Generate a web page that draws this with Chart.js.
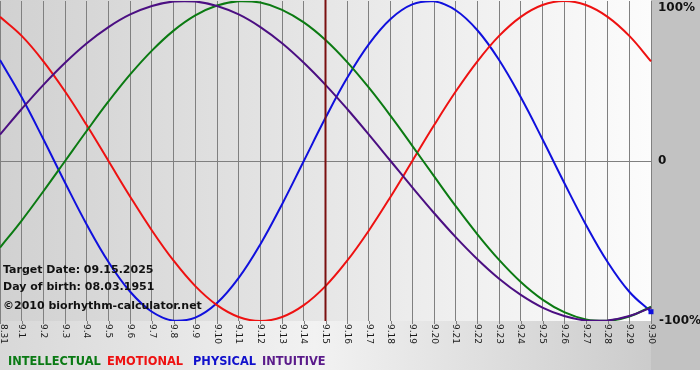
<!DOCTYPE html>
<html>
<head>
<meta charset="utf-8">
<script src="https://cdn.jsdelivr.net/npm/chart.js@4.4.1/dist/chart.umd.min.js"></script>
<style>
html,body{margin:0;padding:0;background:#fff;}
#wrap{width:700px;height:380px;position:relative;}
</style>
</head>
<body>
<div id="wrap"><canvas id="c" width="700" height="380"></canvas></div>
<script>
const dayLabels = ["8.31","9.1","9.2","9.3","9.4","9.5","9.6","9.7","9.8","9.9","9.10","9.11","9.12","9.13","9.14","9.15","9.16","9.17","9.18","9.19","9.20","9.21","9.22","9.23","9.24","9.25","9.26","9.27","9.28","9.29","9.30"];
const intellectual = [-54.1,-37.2,-18.9,0,18.9,37.2,54.1,69.0,81.5,91.0,97.2,99.9,99.0,94.5,86.6,75.6,61.8,45.8,28.2,9.5,-9.5,-28.2,-45.8,-61.8,-75.6,-86.6,-94.5,-99.0,-99.9,-97.2,-91.0];
const emotional = [90.1,78.2,62.3,43.4,22.3,0,-22.3,-43.4,-62.3,-78.2,-90.1,-97.5,-100,-97.5,-90.1,-78.2,-62.3,-43.4,-22.3,0,22.3,43.4,62.3,78.2,90.1,97.5,100,97.5,90.1,78.2,62.3];
const physical = [63.1,39.8,13.6,-13.6,-39.8,-63.1,-81.7,-94.2,-99.8,-97.9,-88.8,-73.1,-52.0,-27.0,0,27.0,52.0,73.1,88.8,97.9,99.8,94.2,81.7,63.1,39.8,13.6,-13.6,-39.8,-63.1,-81.7,-94.2];
const intuitive = [16.5,32.5,47.6,61.4,73.6,83.7,91.6,96.9,99.7,99.7,96.9,91.6,83.7,73.6,61.4,47.6,32.5,16.5,0,-16.5,-32.5,-47.6,-61.4,-73.6,-83.7,-91.6,-96.9,-99.7,-99.7,-96.9,-91.6];
const yTickLabels = [[100,"100%"],[0,"0"],[-100,"-100%"]];
const targetLabel = "9.15";
const infoLines = ["Target Date: 09.15.2025","Day of birth: 08.03.1951","©2010 biorhythm-calculator.net"];
const legendItems = [["INTELLECTUAL","#0a7a14"],["EMOTIONAL","#ee1111"],["PHYSICAL","#1010cc"],["INTUITIVE","#5a1a8a"]];

const bgPlugin = {
  id: 'bg',
  beforeDraw(chart) {
    const ctx = chart.ctx, a = chart.chartArea;
    ctx.save();
    ctx.fillStyle = '#ffffff';
    ctx.fillRect(0,0,700,380);
    let g = ctx.createLinearGradient(0,0,700,0);
    g.addColorStop(0,'#d8d8d8');
    g.addColorStop(0.45,'#f2f2f2');
    g.addColorStop(1,'#c6c6c6');
    ctx.fillStyle = g;
    ctx.fillRect(0,a.bottom,700,370-a.bottom);
    ctx.fillStyle = '#c2c2c2';
    ctx.fillRect(a.right,0,700-a.right,370);
    g = ctx.createLinearGradient(a.left,0,a.right,0);
    g.addColorStop(0,'#d1d1d1');
    g.addColorStop(1,'#fcfcfc');
    ctx.fillStyle = g;
    ctx.fillRect(a.left,0,a.right-a.left,a.bottom);
    ctx.restore();
  },
  beforeDatasetsDraw(chart) {
    const ctx = chart.ctx, a = chart.chartArea;
    const y = chart.scales.y;
    ctx.save();
    const y0 = Math.round(y.getPixelForValue(0)) + 0.5;
    ctx.strokeStyle = '#808080';
    ctx.lineWidth = 1;
    ctx.beginPath();
    ctx.moveTo(a.left,y0); ctx.lineTo(a.right,y0); ctx.stroke();
    ctx.restore();
  },
  afterDatasetsDraw(chart) {
    const ctx = chart.ctx, a = chart.chartArea;
    const x = chart.scales.x, y = chart.scales.y;
    ctx.save();
    // end marker on physical curve
    const pm = chart.getDatasetMeta(3).data;
    const last = pm[pm.length-1];
    ctx.fillStyle = '#1010dd';
    ctx.fillRect(last.x-2.5,last.y-2.5,5,5);
    const tx = x.getPixelForValue(dayLabels.indexOf(targetLabel));
    ctx.strokeStyle = '#7a1010';
    ctx.lineWidth = 2;
    ctx.beginPath();
    ctx.moveTo(tx,0); ctx.lineTo(tx,a.bottom); ctx.stroke();
    ctx.fillStyle = '#111';
    ctx.font = "bold 11px 'DejaVu Sans'";
    ctx.textBaseline = 'middle';
    ctx.textAlign = 'left';
    ctx.fillText(infoLines[0],3,270);
    ctx.fillText(infoLines[1],3,287);
    ctx.fillText(infoLines[2],3,306);
    ctx.font = "9px 'DejaVu Sans'";
    ctx.fillStyle = '#1a1a1a';
    dayLabels.forEach((lab,i) => {
      const px = x.getPixelForValue(i);
      ctx.save();
      ctx.translate(Math.max(px,3), a.bottom + 3);
      ctx.rotate(Math.PI/2);
      ctx.textAlign = 'left';
      ctx.textBaseline = 'middle';
      ctx.fillText(lab,0,0);
      ctx.restore();
    });
    ctx.strokeStyle = '#808080';
    ctx.lineWidth = 1;
    dayLabels.forEach((lab,i) => {
      const px = Math.round(x.getPixelForValue(i)) + 0.5;
      ctx.beginPath(); ctx.moveTo(px,a.bottom); ctx.lineTo(px,a.bottom+3); ctx.stroke();
    });
    ctx.font = "bold 12px 'DejaVu Sans'";
    ctx.fillStyle = '#111';
    ctx.textAlign = 'left';
    yTickLabels.forEach(([v,t]) => {
      let py = y.getPixelForValue(v);
      py = Math.min(Math.max(py,8),a.bottom);
      ctx.fillText(t, v < 0 ? 659 : 658, py);
    });
    ctx.font = "bold 11.4px 'DejaVu Sans'";
    const legendX = [8,107,193,262];
    legendItems.forEach(([t,c],i) => {
      ctx.fillStyle = c;
      ctx.fillText(t,legendX[i],362);
    });
    ctx.restore();
  }
};

function ds(label,data,color){
  return {label,data,borderColor:color,backgroundColor:color,borderWidth:2,pointRadius:0,tension:0.4,fill:false};
}

new Chart(document.getElementById('c'), {
  type: 'line',
  data: {
    labels: dayLabels,
    datasets: [
      ds('INTUITIVE', intuitive, '#4b0f82'),
      ds('INTELLECTUAL', intellectual, '#0b7a12'),
      ds('EMOTIONAL', emotional, '#ee1111'),
      ds('PHYSICAL', physical, '#1010dd')
    ]
  },
  options: {
    responsive: false,
    animation: false,
    events: [],
    layout: {padding: {left:0, right:49, top:1, bottom:59}},
    plugins: {legend:{display:false}, tooltip:{enabled:false}},
    scales: {
      x: {
        offset: false,
        ticks: {display:false},
        grid: {color:'#808080', lineWidth:1, drawTicks:false},
        border: {display:false}
      },
      y: {
        min: -100, max: 100,
        ticks: {display:false},
        grid: {display:false, drawTicks:false},
        border: {display:false}
      }
    }
  },
  plugins: [bgPlugin]
});
</script>
</body>
</html>
